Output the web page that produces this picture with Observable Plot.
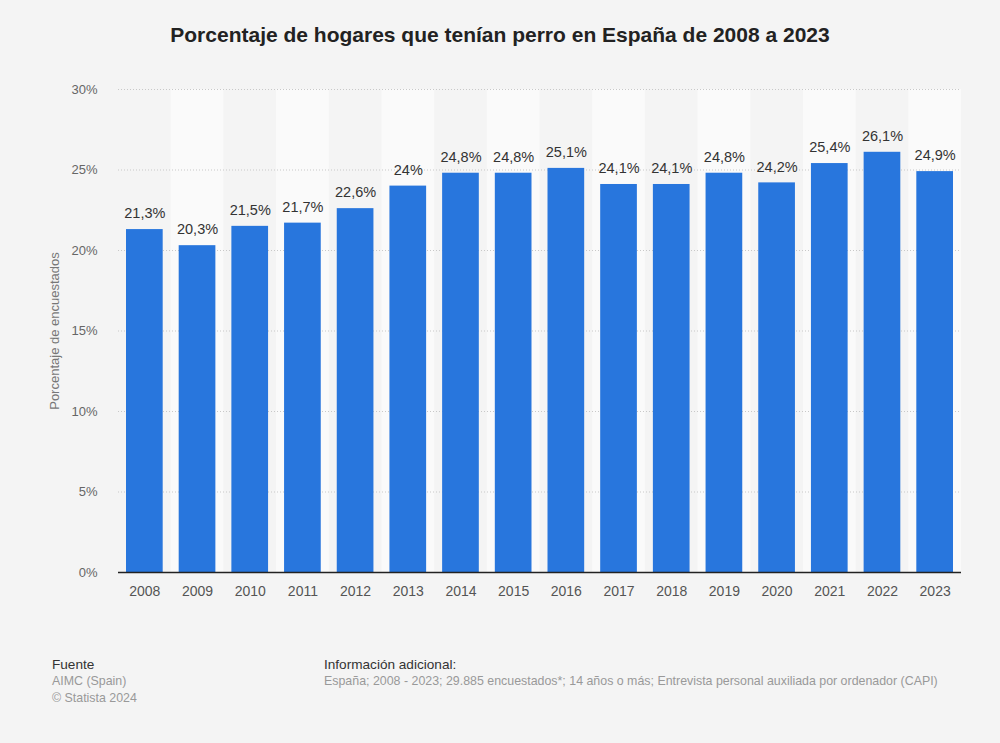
<!DOCTYPE html>
<html>
<head>
<meta charset="utf-8">
<script src="https://cdn.jsdelivr.net/npm/d3@7"></script>
<script src="https://cdn.jsdelivr.net/npm/@observablehq/plot@0.6"></script>
<style>
  html, body { margin: 0; padding: 0; background: #f4f4f4; }
  body { width: 1000px; height: 743px; position: relative; font-family: "Liberation Sans", Arial, sans-serif; overflow: hidden; }
  #title { position: absolute; top: 23px; left: 0; width: 1000px; text-align: center; font-weight: bold; font-size: 21px; color: #222; }
  #chart { position: absolute; top: 60px; left: 0; }
  .foot { position: absolute; top: 656px; font-size: 12.4px; line-height: 17px; color: #999; }
  .foot .h { color: #333; font-size: 13.6px; }
</style>
</head>
<body>
<div id="title">Porcentaje de hogares que tenían perro en España de 2008 a 2023</div>
<div id="chart"></div>
<div class="foot" style="left:52px"><div class="h">Fuente</div><div>AIMC (Spain)</div><div>© Statista 2024</div></div>
<div class="foot" style="left:324px"><div class="h">Información adicional:</div><div>España; 2008 - 2023; 29.885 encuestados*; 14 años o más; Entrevista personal auxiliada por ordenador (CAPI)</div></div>
<script>
const years = ["2008","2009","2010","2011","2012","2013","2014","2015","2016","2017","2018","2019","2020","2021","2022","2023"];
const values = [21.3, 20.3, 21.5, 21.7, 22.6, 24, 24.8, 24.8, 25.1, 24.1, 24.1, 24.8, 24.2, 25.4, 26.1, 24.9];
const yTicks = [0, 5, 10, 15, 20, 25, 30];

const data = years.map((y, i) => ({year: y, value: values[i]}));
const bands = years.filter((y, i) => i % 2 === 1).map(y => ({year: y}));
const fmt = v => String(v).replace(".", ",") + "%";

const chart = Plot.plot({
  width: 1000,
  height: 560,
  marginTop: 29,
  marginBottom: 48,
  marginLeft: 118,
  marginRight: 39,
  style: {background: "transparent", fontFamily: "'Liberation Sans', Arial, sans-serif"},
  x: {domain: years, padding: 0, round: false, label: null},
  y: {domain: [0, 30], label: null},
  marks: [
    Plot.barY(bands, {x: "year", y1: 0, y2: 30, fill: "#fafafa"}),
    Plot.gridY(yTicks, {stroke: "#c8c8c8", strokeOpacity: 1, strokeDasharray: "1,2"}),
    Plot.barY(data, {x: "year", y: "value", fill: "#2876dd", insetLeft: 8, insetRight: 8}),
    Plot.text(data, {x: "year", y: "value", text: d => fmt(d.value), dy: -16, fontSize: 14.5, fill: "#333"}),
    Plot.ruleY([0], {stroke: "#222", strokeWidth: 1.5}),
    Plot.axisY(yTicks, {tickSize: 0, tickPadding: 21, tickFormat: d => d + "%", fontSize: 13, fill: "#666", label: null}),
    Plot.axisX({tickSize: 0, tickPadding: 14, fontSize: 14, fill: "#555", label: null}),
    Plot.text(["Porcentaje de encuestados"], {frameAnchor: "left", textAnchor: "middle", dx: -64, rotate: -90, fontSize: 13, fill: "#777"})
  ]
});
document.getElementById("chart").appendChild(chart);
</script>
</body>
</html>
